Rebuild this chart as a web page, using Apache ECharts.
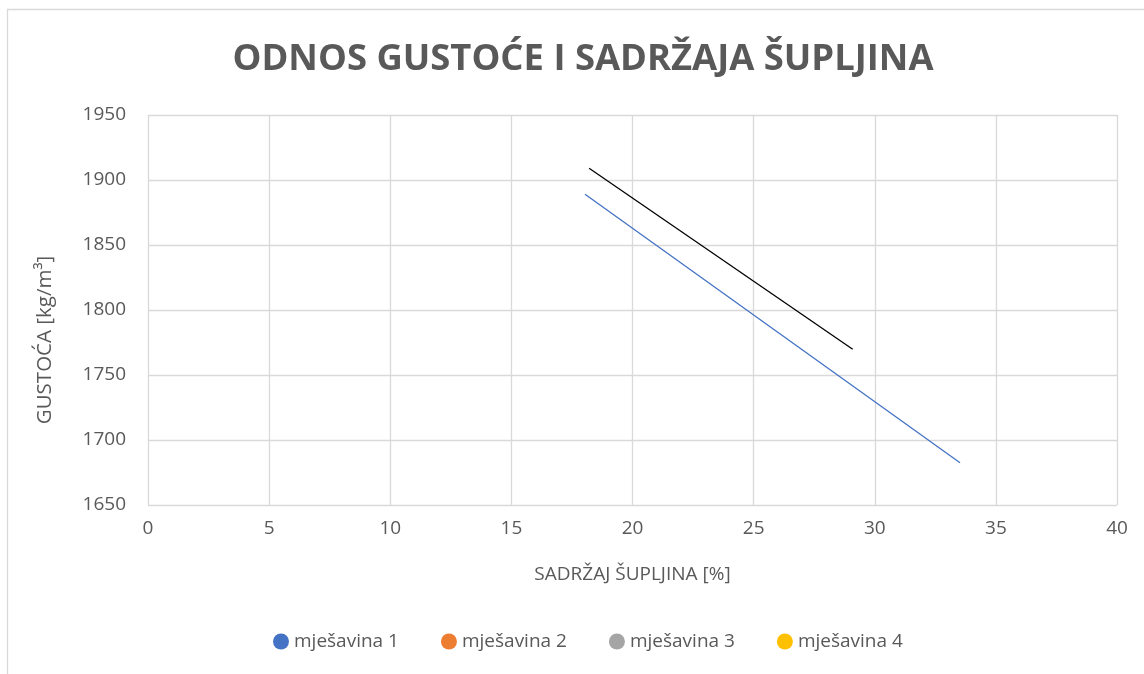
<!DOCTYPE html>
<html>
<head>
<meta charset="utf-8">
<script src="https://cdn.jsdelivr.net/npm/echarts@6/dist/echarts.min.js"></script>
<style>html,body{margin:0;padding:0;background:#fff;}#c{width:1144px;height:674px;}</style>
</head>
<body>
<div id="c"></div>
<script>
const seriesNames = ['mješavina 1', 'mješavina 2', 'mješavina 3', 'mješavina 4'];
const seriesColors = ['#4472C4', '#ED7D31', '#A5A5A5', '#FFC000'];
const mix1Void = [18.04, 33.52];
const mix1Density = [1889, 1682.5];
const trendVoid = [18.21, 29.09];
const trendDensity = [1909, 1769.8];
const xTicks = [0, 5, 10, 15, 20, 25, 30, 35, 40];
const yTicks = [1650, 1700, 1750, 1800, 1850, 1900, 1950];

const font = "'Open Sans', 'Liberation Sans', sans-serif";
const pair = (xs, ys) => xs.map((x, i) => [x, ys[i]]);

const chart = echarts.init(document.getElementById('c'), null, {renderer: 'canvas'});
const series = [
  {name: seriesNames[0], type: 'line', data: pair(mix1Void, mix1Density), showSymbol: false, symbol: 'circle',
   lineStyle: {color: seriesColors[0], width: 1.3}, itemStyle: {color: seriesColors[0]}},
  {name: seriesNames[1], type: 'line', data: [], symbol: 'circle', itemStyle: {color: seriesColors[1]}},
  {name: seriesNames[2], type: 'line', data: [], symbol: 'circle', itemStyle: {color: seriesColors[2]}},
  {name: seriesNames[3], type: 'line', data: [], symbol: 'circle', itemStyle: {color: seriesColors[3]}},
  {name: 'trend', type: 'line', data: pair(trendVoid, trendDensity), showSymbol: false,
   lineStyle: {color: '#000000', width: 1.3}, itemStyle: {color: '#000'}}
];
chart.setOption({
  animation: false,
  backgroundColor: '#fff',
  graphic: [{type: 'rect', shape: {x: 7.5, y: 9.5, width: 1200, height: 700}, style: {fill: 'none', stroke: '#d9d9d9', lineWidth: 1.3}, silent: true, z: -10}],
  title: {text: 'ODNOS GUSTOĆE I SADRŽAJA ŠUPLJINA', left: 578, textAlign: 'center', top: 37,
    textStyle: {fontFamily: font, fontWeight: 'bold', fontSize: 36.4, color: '#595959'}},
  legend: {data: seriesNames.map(n => ({name: n, icon: 'circle'})), bottom: 18, left: 268, itemWidth: 16, itemHeight: 16, itemGap: 42,
    textStyle: {fontFamily: font, fontSize: 19, color: '#595959'}},
  grid: {left: 148, right: 27, top: 115, bottom: 169},
  xAxis: {type: 'value', min: 0, max: 40, interval: 5,
    name: 'SADRŽAJ ŠUPLJINA [%]', nameLocation: 'middle', nameGap: 60,
    nameTextStyle: {fontFamily: font, fontSize: 19, color: '#595959'},
    axisLine: {show: false}, axisTick: {show: false},
    axisLabel: {fontFamily: font, fontSize: 19, color: '#595959', margin: 14},
    splitLine: {show: true, lineStyle: {color: '#d9d9d9', width: 1.3}}},
  yAxis: {type: 'value', min: 1650, max: 1950, interval: 50,
    name: 'GUSTOĆA [kg/m³]', nameLocation: 'middle', nameGap: 92, nameRotate: 90,
    nameTextStyle: {fontFamily: font, fontSize: 20.5, color: '#595959', padding: [0, 60, 0, 0]},
    axisLine: {show: false}, axisTick: {show: false},
    axisLabel: {fontFamily: font, fontSize: 19, color: '#595959', margin: 22, formatter: v => String(v)},
    splitLine: {show: true, lineStyle: {color: '#d9d9d9', width: 1.3}}},
  series: series
});
</script>
</body>
</html>
